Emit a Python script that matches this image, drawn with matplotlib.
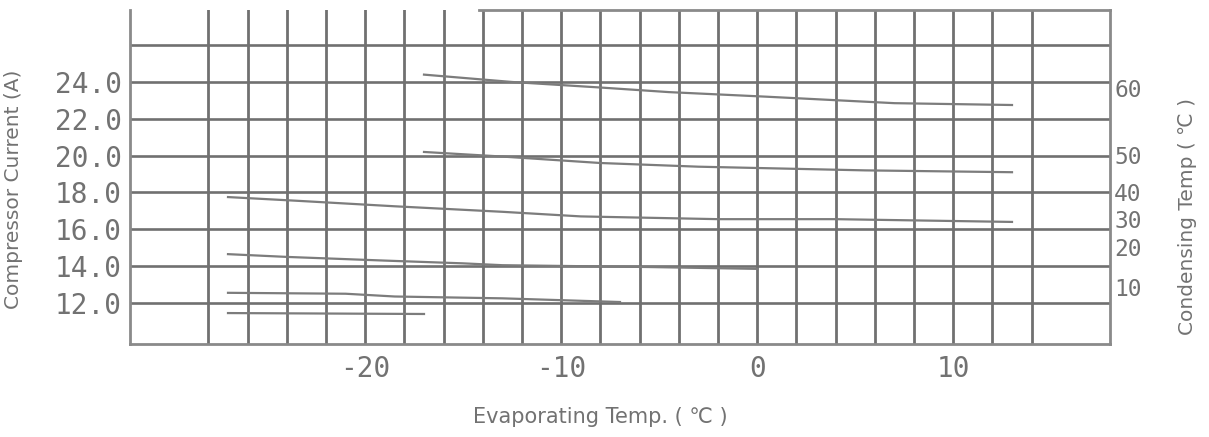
import numpy as np
import matplotlib.pyplot as plt

# condensing temperature curves: evaporating temp (C) -> compressor current (A)
evap_60 = [-17, -12.5, -8, -4.5, 0.5, 7, 13]
amp_60 = [24.4, 24.0, 23.7, 23.45, 23.2, 22.85, 22.75]

evap_50 = [-17, -13, -8, -3, 5.5, 13]
amp_50 = [20.2, 19.95, 19.6, 19.4, 19.2, 19.1]

evap_40 = [-27, -23.5, -18.5, -13, -9, -2, 4, 13]
amp_40 = [17.75, 17.55, 17.25, 16.95, 16.7, 16.55, 16.55, 16.4]

evap_30 = [-27, -24, -19, -15, -13, -5.5, 0]
amp_30 = [14.65, 14.5, 14.3, 14.15, 14.05, 13.95, 13.85]

evap_20 = [-27, -21, -18.5, -13, -7]
amp_20 = [12.55, 12.5, 12.35, 12.25, 12.05]

evap_10 = [-27, -17]
amp_10 = [11.45, 11.4]

curves = [(evap_60, amp_60), (evap_50, amp_50), (evap_40, amp_40),
          (evap_30, amp_30), (evap_20, amp_20), (evap_10, amp_10)]

# axis ticks
x_ticks = [-20, -10, 0, 10]
y_ticks = [12, 14, 16, 18, 20, 22, 24]
y_ticklabels = ['12.0', '14.0', '16.0', '18.0', '20.0', '22.0', '24.0']
cond_labels = ['60', '50', '40', '30', '20', '10']
cond_label_amps = [23.67, 20.03, 18.05, 16.55, 15.04, 12.87]

grid_x = np.arange(-28, 15, 2)
grid_y = np.arange(12, 27, 2)

text_col = '#727272'
line_col = '#707070'

fig = plt.figure(figsize=(12.09, 4.37), dpi=100)
ax = fig.add_axes([130 / 1209, 1 - 344 / 437, 980 / 1209, 334 / 437])
ax.set_xlim(-32, 18)
ax.set_ylim(9.77, 27.91)

for gx in grid_x:
    ax.axvline(gx, color=line_col, lw=2.0, zorder=2)
for gy in grid_y:
    ax.axhline(gy, color=line_col, lw=1.9, zorder=2)

for ev, am in curves:
    ax.plot(ev, am, color='#7c7c7c', lw=1.6, zorder=3)

for side in ['left', 'right', 'bottom', 'top']:
    ax.spines[side].set_color('#8a8a8a')
    ax.spines[side].set_linewidth(2.0)
ax.spines['top'].set_bounds(-14.2, 18)

ax.set_xticks(x_ticks)
ax.set_xticklabels([str(v) for v in x_ticks])
ax.set_yticks(y_ticks)
ax.set_yticklabels(y_ticklabels)
ax.tick_params(length=0, labelcolor=text_col)
ax.tick_params(axis='x', pad=8, labelsize=20)
ax.tick_params(axis='y', pad=6, labelsize=20)
for lab in ax.get_xticklabels() + ax.get_yticklabels():
    lab.set_family('DejaVu Sans Mono')

ax.set_xlabel('Evaporating Temp. ( \u2103 )', fontsize=15, color=text_col)
ax.xaxis.set_label_coords(0.48, -0.19)
ax.set_ylabel('Compressor Current (A)', fontsize=14.5, color=text_col)
ax.yaxis.set_label_coords(-0.109, 0.464)

ax2 = ax.twinx()
ax2.set_ylim(ax.get_ylim())
ax2.set_yticks(cond_label_amps)
ax2.set_yticklabels(cond_labels)
ax2.tick_params(length=0, pad=3, labelsize=16.5, labelcolor=text_col)
for lab in ax2.get_yticklabels():
    lab.set_family('DejaVu Sans Mono')
for side in ['left', 'right', 'bottom', 'top']:
    ax2.spines[side].set_visible(False)
ax2.set_ylabel('Condensing Temp ( \u2103 )', fontsize=14.5, color=text_col)
ax2.yaxis.set_label_coords(1.069, 0.383)

fig.savefig('out.png', dpi=100)
